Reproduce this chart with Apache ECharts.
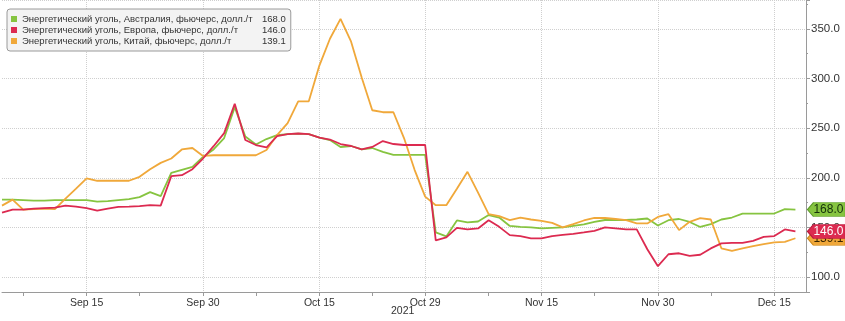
<!DOCTYPE html>
<html>
<head>
<meta charset="utf-8">
<script src="https://cdn.jsdelivr.net/npm/echarts@6/dist/echarts.min.js"></script>
<style>
html,body{margin:0;padding:0;background:#fff;}
#c{width:845px;height:321px;}
</style>
</head>
<body>
<div id="c"></div>
<script>
const dates = [
'2021-09-03','2021-09-06','2021-09-07','2021-09-08','2021-09-09','2021-09-10','2021-09-13','2021-09-14','2021-09-15','2021-09-16','2021-09-17','2021-09-20','2021-09-21','2021-09-22','2021-09-23','2021-09-24','2021-09-27','2021-09-28','2021-09-29','2021-09-30',
'2021-10-01','2021-10-04','2021-10-05','2021-10-06','2021-10-07','2021-10-08','2021-10-11','2021-10-12','2021-10-13','2021-10-14','2021-10-15','2021-10-18','2021-10-19','2021-10-20','2021-10-21','2021-10-22','2021-10-25','2021-10-26','2021-10-27','2021-10-28','2021-10-29',
'2021-11-01','2021-11-02','2021-11-03','2021-11-04','2021-11-05','2021-11-08','2021-11-09','2021-11-10','2021-11-11','2021-11-12','2021-11-15','2021-11-16','2021-11-17','2021-11-18','2021-11-19','2021-11-22','2021-11-23','2021-11-24','2021-11-25','2021-11-26','2021-11-29','2021-11-30',
'2021-12-01','2021-12-02','2021-12-03','2021-12-06','2021-12-07','2021-12-08','2021-12-09','2021-12-10','2021-12-13','2021-12-14','2021-12-15','2021-12-16','2021-12-17','2021-12-20'
];
const australia = [178,178,177.5,177,177,177.5,177.5,177.5,177.5,176,176.5,177.5,178.5,180.5,185.5,181.5,205,208,211,221,
228.5,240,271,241.5,233.5,239,243,244,244.5,244,240.5,238,231,232,228.5,230,226,223,223,223,223,
145,141,157,155,156,162.5,160,151.5,150.5,150,149,149.5,150,151.5,153,155.5,157.5,157.5,157.5,158,159,152,
157.3,158.5,155.5,150.5,153.3,158,160,164,164,164,164,168.4,168,null];
const europe = [165,168,168,169,169.5,170,172,171,169.5,167,169,170.7,171,171.5,172.5,172,201.6,202.6,208.6,219.4,
231.8,245,274.5,238,233,230.5,242,244,244.6,244,240.5,238.5,234,232,228.5,231,237,234,233,233,233,
137,140,149.6,148,149,157.3,150.6,142.3,141.3,139,139,141.3,142.5,143.5,145,146.6,150,149,148,148,128,111,
123,124,121.4,122.5,128.9,134,134.5,134.5,136.5,140.5,141.3,148,146,null];
const china = [172,178,168,168.5,169,168.5,179,189,199.3,197,197,197,197,201,208.6,215,219.4,228.5,230,222,
222.7,222.7,222.7,222.7,222.7,228,243,255,277,277,313,340,360,337,301,268,266,266,240,208,181,
172.4,172.4,189,206,185,163.5,161.4,157.3,160,158,156.6,154.6,150,153.3,157,159.7,159.5,158.5,157.3,154,154,160.6,
163.4,147.3,155.7,159.3,158,129,126.5,129,131.2,133.2,135,135.5,139.1,null];
const seriesNames = ['Энергетический уголь, Австралия, фьючерс, долл./т','Энергетический уголь, Европа, фьючерс, долл./т','Энергетический уголь, Китай, фьючерс, долл./т'];
const lastValues = ['168.0','146.0','139.1'];
const labelIdx = [8,19,30,40,51,62,73];
const tickIdx = [2,8,13,19,24,30,35,40,46,51,56,62,67,73];
const monthNames = ['Jan','Feb','Mar','Apr','May','Jun','Jul','Aug','Sep','Oct','Nov','Dec'];
const yearLabel = '2021';

const colors = ['#86c440','#dc2a50','#f0a83a'];
const tagText = ['#14300a','#ffffff','#3a2600'];
const tagBorder = ['#5c9a2a','#b81a3c','#c98414'];
const FONT = 'Liberation Sans';
const lastIdx = 75;

function mkSeries(k, data, z){
  return {
    name: seriesNames[k], type:'line', data:data, symbol:'none', z:z,
    lineStyle:{width:1.8,color:colors[k]}, itemStyle:{color:colors[k]},
    markPoint:{
      z:10+z,
      symbol:'path://M0,7 L6,0 L38,0 L38,14 L6,14 Z',
      symbolSize:[38,14], symbolOffset:[31,0], symbolKeepAspect:false,
      itemStyle:{color:colors[k], borderColor:tagBorder[k], borderWidth:0.8},
      label:{show:true, position:'inside', offset:[2,0], color:tagText[k], fontSize:12, fontFamily:FONT,
        formatter:()=>lastValues[k]},
      data:[{coord:[dates[lastIdx], data[lastIdx]]}]
    }
  };
}

const chart = echarts.init(document.getElementById('c'), null, {renderer:'canvas'});
chart.setOption({
  animation:false,
  backgroundColor:'#ffffff',
  title:{text:yearLabel, left:391, top:306, padding:0,
    textStyle:{fontFamily:FONT, fontSize:10.5, fontWeight:'normal', color:'#333'}},
  grid:{left:2, right:39, top:0, bottom:29, containLabel:false, outerBoundsMode:'none'},
  legend:{
    left:7, top:9, orient:'vertical', icon:'rect', itemWidth:6, itemHeight:6, itemGap:1,
    padding:[5,5,5,4], backgroundColor:'#f3f3f3', borderColor:'#9a9a9a', borderWidth:1, borderRadius:3,
    selectedMode:false,
    data:seriesNames,
    textStyle:{fontFamily:FONT, fontSize:9.5, color:'#333', lineHeight:10,
      rich:{n:{width:240, fontFamily:FONT, fontSize:9.5, color:'#333'}, v:{fontFamily:FONT, fontSize:9.5, color:'#333'}}},
    formatter:(name)=>'{n|'+name+'}{v|'+lastValues[seriesNames.indexOf(name)]+'}'
  },
  xAxis:{
    type:'category', data:dates, boundaryGap:false,
    axisLine:{show:true, lineStyle:{color:'#9a9a9a', width:1}},
    axisTick:{show:true, length:4, interval:(i)=>tickIdx.includes(i), lineStyle:{color:'#9a9a9a'}},
    axisLabel:{interval:(i)=>labelIdx.includes(i), margin:6, fontFamily:FONT, fontSize:10.5, color:'#333',
      formatter:(v)=>{const p=v.split('-'); return monthNames[+p[1]-1]+' '+(+p[2]);}},
    splitLine:{show:true, interval:(i)=>labelIdx.includes(i), lineStyle:{color:'#cfcfcf', type:'dotted', width:1}}
  },
  yAxis:{
    type:'value', position:'right', min:85, max:379, splitNumber:6, scale:true, z:0,
    axisLine:{show:true, lineStyle:{color:'#9a9a9a', width:1}},
    axisTick:{show:true, length:4, lineStyle:{color:'#9a9a9a'}},
    minorTick:{show:true, splitNumber:2, length:2, lineStyle:{color:'#9a9a9a'}},
    axisLabel:{showMinLabel:false, showMaxLabel:false, margin:5, fontFamily:FONT, fontSize:11.5, color:'#333',
      formatter:(v)=>v.toFixed(1)},
    splitLine:{show:true, lineStyle:{color:'#cfcfcf', type:'dotted', width:1}}
  },
  series:[
    mkSeries(0, australia, 2),
    mkSeries(1, europe, 4),
    mkSeries(2, china, 3)
  ]
});
</script>
</body>
</html>
